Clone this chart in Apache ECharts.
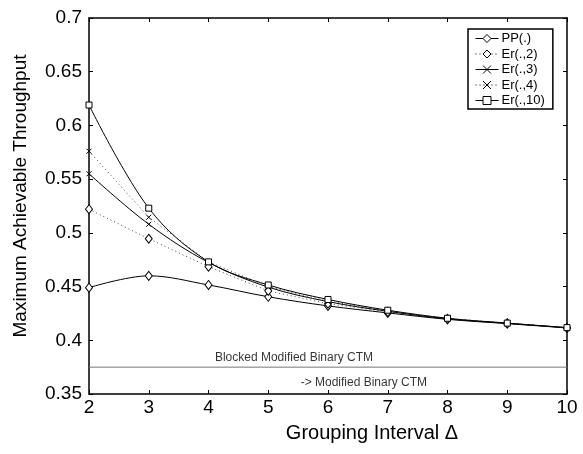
<!DOCTYPE html>
<html>
<head>
<meta charset="utf-8">
<script src="https://cdn.jsdelivr.net/npm/echarts@6/dist/echarts.min.js"></script>
<style>
  html, body { margin: 0; padding: 0; background: #fff; }
  #chart { width: 583px; height: 454px; }
</style>
</head>
<body>
<div id="chart"></div>
<script>
// grouping interval (x)
const intervals = [2, 3, 4, 5, 6, 7, 8, 9, 10];

// maximum achievable throughput
const ppValues   = [0.449, 0.460, 0.4515, 0.4405, 0.432, 0.4255, 0.4195, 0.4155, 0.4115];
const er2Values  = [0.522, 0.4945, 0.4685, 0.446, 0.434, 0.4265, 0.420, 0.4158, 0.4117];
const er3Values  = [0.555, 0.508, 0.4725, 0.4495, 0.436, 0.427, 0.420, 0.4158, 0.4117];
const er4Values  = [0.576, 0.5145, 0.473, 0.450, 0.4365, 0.4272, 0.4202, 0.416, 0.4117];
const er10Values = [0.619, 0.523, 0.473, 0.4515, 0.438, 0.428, 0.4205, 0.416, 0.4118];

const seriesNames = ['PP(.)', 'Er(.,2)', 'Er(.,3)', 'Er(.,4)', 'Er(.,10)'];
const dottedSeries = ['Er(.,2)', 'Er(.,4)'];

// reference level and its notes
const ctmLevel = 0.375;
const noteText = ['Blocked Modified Binary CTM', '-> Modified Binary CTM'];
const noteX = [5.43, 6.6];
const noteY = [0.3835, 0.3602];

const font = '"Liberation Sans", Arial, Helvetica, sans-serif';
const crossPath = 'path://M0,0L10,10M10,0L0,10';
const dotDash = [1, 3];

const pairs = (vals) => intervals.map((x, i) => [x, vals[i]]);

function curve(name, vals, symbol, size) {
  const dotted = dottedSeries.includes(name);
  return {
    name: name,
    type: 'line',
    xAxisIndex: 0,
    yAxisIndex: 0,
    data: pairs(vals),
    smooth: dotted ? false : 0.35,
    symbol: symbol,
    symbolSize: size,
    showAllSymbol: true,
    lineStyle: { color: dotted ? '#444' : '#000', width: 1, type: dotted ? dotDash : 'solid' },
    itemStyle: { color: '#fff', borderColor: '#000', borderWidth: 1 },
    emphasis: { disabled: true },
    z: 3
  };
}

const chart = echarts.init(document.getElementById('chart'));

const option = {
  animation: false,
  textStyle: { fontFamily: font },
  grid: { left: 89, right: 16, top: 18, bottom: 60 },
  legend: {
    data: seriesNames.map((n) => ({
      name: n,
      lineStyle: { color: '#000', width: 1, type: dottedSeries.includes(n) ? dotDash : 'solid' }
    })),
    orient: 'vertical',
    left: 468,
    top: 29,
    itemWidth: 23,
    itemHeight: 10,
    itemGap: 2.5,
    padding: [3, 8, 2, 7],
    borderColor: '#000',
    borderWidth: 1.5,
    backgroundColor: '#fff',
    itemStyle: { color: '#fff', borderColor: '#000', borderWidth: 1 },
    textStyle: { fontFamily: font, fontSize: 13, color: '#000', padding: [0, 0, 0, -2] }
  },
  xAxis: [
    {
      type: 'value',
      min: 2, max: 10, interval: 1,
      name: 'Grouping Interval \u0394',
      nameLocation: 'middle',
      nameGap: 29,
      nameTextStyle: { fontSize: 20, color: '#000', padding: [0, 0, 0, 88] },
      axisLine: { lineStyle: { color: '#000', width: 1.5 } },
      axisTick: { inside: true, length: 4, lineStyle: { color: '#000' } },
      axisLabel: { fontSize: 19, color: '#000', margin: 4 },
      splitLine: { show: false }
    },
    {
      type: 'value',
      position: 'top',
      min: 2, max: 10, interval: 1,
      axisLine: { onZero: false, lineStyle: { color: '#000', width: 1.5 } },
      axisTick: { inside: true, length: 4, lineStyle: { color: '#000' } },
      axisLabel: { show: false },
      splitLine: { show: false }
    }
  ],
  yAxis: [
    {
      type: 'value',
      min: 0.35, max: 0.7, interval: 0.05,
      name: 'Maximum Achievable Throughput',
      nameLocation: 'middle',
      nameGap: 59,
      nameTextStyle: { fontSize: 19, color: '#000', padding: [0, 0, 0, 20] },
      axisLine: { lineStyle: { color: '#000', width: 1.5 } },
      axisTick: { inside: true, length: 4, lineStyle: { color: '#000' } },
      axisLabel: { fontSize: 19, color: '#000', margin: 7 },
      splitLine: { show: false }
    },
    {
      type: 'value',
      position: 'right',
      min: 0.35, max: 0.7, interval: 0.05,
      axisLine: { onZero: false, lineStyle: { color: '#000', width: 1.5 } },
      axisTick: { inside: true, length: 4, lineStyle: { color: '#000' } },
      axisLabel: { show: false },
      splitLine: { show: false }
    }
  ],
  series: [
    curve(seriesNames[0], ppValues, 'diamond', [7, 9]),
    curve(seriesNames[1], er2Values, 'diamond', [7, 9]),
    curve(seriesNames[2], er3Values, crossPath, 5),
    curve(seriesNames[3], er4Values, crossPath, 5),
    curve(seriesNames[4], er10Values, 'rect', 6),
    {
      name: 'CTM',
      type: 'line',
      data: [[2, ctmLevel], [10, ctmLevel]],
      symbol: 'none',
      lineStyle: { color: '#777', width: 1 },
      emphasis: { disabled: true },
      z: 2
    },
    {
      name: 'notes',
      type: 'scatter',
      data: noteX.map((x, i) => ({ value: [x, noteY[i]], name: noteText[i] })),
      symbolSize: 0,
      label: {
        show: true,
        position: 'inside',
        formatter: (p) => p.name,
        fontSize: 12,
        color: '#000',
        fontFamily: font
      },
      emphasis: { disabled: true },
      z: 4
    }
  ]
};

chart.setOption(option);
</script>
</body>
</html>
